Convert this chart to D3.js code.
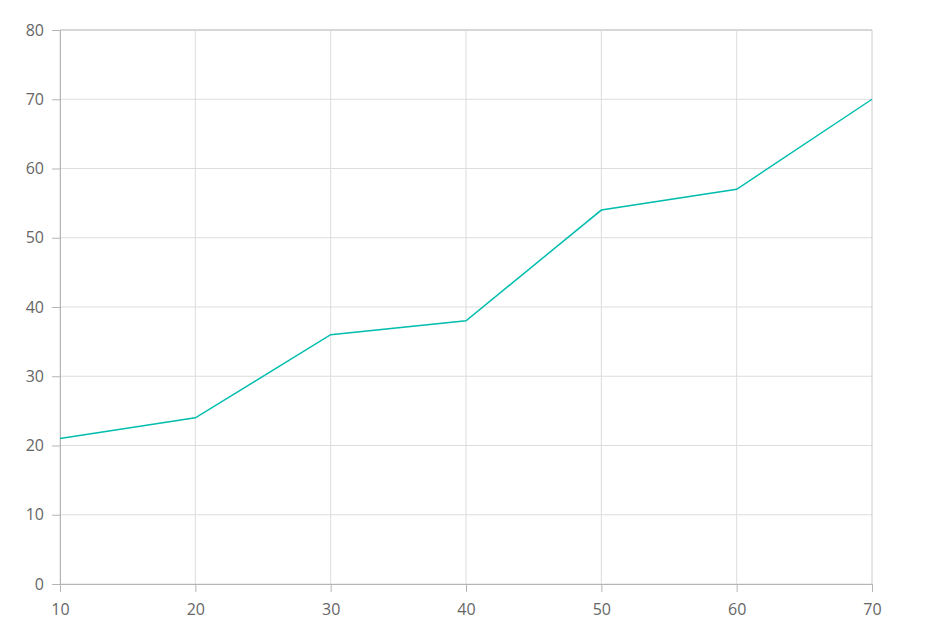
<!DOCTYPE html>
<html>
<head>
<meta charset="utf-8">
<script src="https://cdnjs.cloudflare.com/ajax/libs/d3/7.8.5/d3.min.js"></script>
<style>
  body { margin: 0; background: #fff; }
</style>
</head>
<body>
<div id="chart"></div>
<script>
// data
var xValues = [10, 20, 30, 40, 50, 60, 70];
var yValues = [21, 24, 36, 38, 54, 57, 70];
var xTicks = [10, 20, 30, 40, 50, 60, 70];
var yTicks = [0, 10, 20, 30, 40, 50, 60, 70, 80];

var margin = {top: 30, right: 60, bottom: 50, left: 60},
    width = 932 - margin.left - margin.right,
    height = 634 - margin.top - margin.bottom;

var svg = d3.select("#chart")
    .append("svg")
    .attr("width", 932)
    .attr("height", 634)
    .append("g")
    .attr("transform", `translate(${margin.left}, ${margin.top})`);

var x = d3.scaleLinear().domain([10, 70]).range([0, width]);
var y = d3.scaleLinear().domain([0, 80]).range([height, 0]);

// gridlines
svg.append("g")
    .selectAll("line.h")
    .data(yTicks)
    .enter().append("line")
    .attr("x1", 0).attr("x2", width)
    .attr("y1", function (d) { return y(d); })
    .attr("y2", function (d) { return y(d); })
    .attr("stroke", function (d) { return d === 80 ? "#b0b0b0" : "#dddddd"; })
    .attr("stroke-width", 1);

svg.append("g")
    .selectAll("line.v")
    .data(xTicks)
    .enter().append("line")
    .attr("y1", 0).attr("y2", height)
    .attr("x1", function (d) { return x(d); })
    .attr("x2", function (d) { return x(d); })
    .attr("stroke", function (d) { return d === 70 ? "#cccccc" : "#dddddd"; })
    .attr("stroke-width", 1);

// y axis
var yAxis = svg.append("g")
    .call(d3.axisLeft(y).tickValues(yTicks).tickSize(8).tickPadding(8));
yAxis.select(".domain").attr("stroke", "#b5b5b5");
yAxis.selectAll(".tick line").attr("stroke", "#b5b5b5");

// x axis
var xAxis = svg.append("g")
    .attr("transform", `translate(0, ${height})`)
    .call(d3.axisBottom(x).tickValues(xTicks).tickSize(8).tickPadding(12));
xAxis.select(".domain").attr("stroke", "#b5b5b5");
xAxis.selectAll(".tick line").attr("stroke", "#b5b5b5");

svg.selectAll(".tick text")
    .attr("font-family", "'Open Sans', 'Noto Sans', sans-serif")
    .attr("font-size", 16)
    .style("font-family", "'Open Sans', 'Noto Sans', sans-serif")
    .style("font-size", "16px")
    .attr("fill", "#666");

// line
var points = xValues.map(function (d, i) { return [d, yValues[i]]; });
svg.append("path")
    .datum(points)
    .attr("fill", "none")
    .attr("stroke", "#00bdae")
    .attr("stroke-width", 1.5)
    .attr("d", d3.line()
        .x(function (d) { return x(d[0]); })
        .y(function (d) { return y(d[1]); })
    );
</script>
</body>
</html>
